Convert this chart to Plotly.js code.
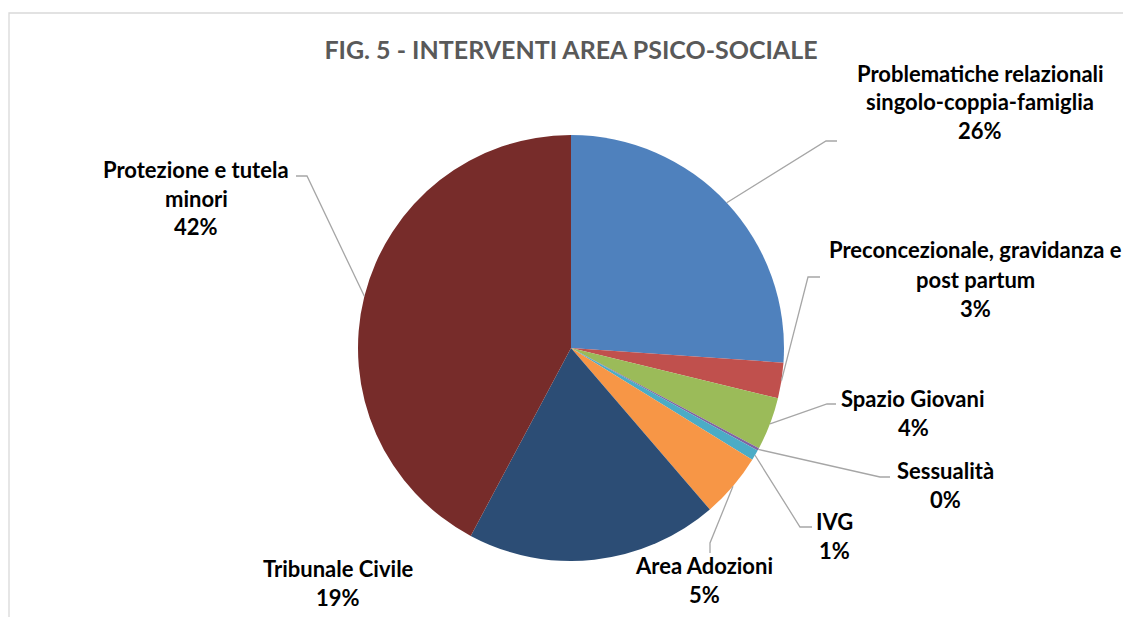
<!DOCTYPE html>
<html>
<head>
<meta charset="utf-8">
<script src="https://cdn.plot.ly/plotly-3.0.1.min.js"></script>
<style>
  html, body { margin: 0; padding: 0; background: #fff; }
  #chart { width: 1123px; height: 617px; }
</style>
</head>
<body>
<div id="chart"></div>
<script>
// data (clockwise from 12 o'clock)
const categories = [
  'Problematiche relazionali singolo-coppia-famiglia',
  'Preconcezionale, gravidanza e post partum',
  'Spazio Giovani',
  'Sessualità',
  'IVG',
  'Area Adozioni',
  'Tribunale Civile',
  'Protezione e tutela minori'
];
const labelLines = [
  ['Problematiche relazionali', 'singolo-coppia-famiglia'],
  ['Preconcezionale, gravidanza e', 'post partum'],
  ['Spazio Giovani'],
  ['Sessualità'],
  ['IVG'],
  ['Area Adozioni'],
  ['Tribunale Civile'],
  ['Protezione e tutela', 'minori']
];
const values = [26.1, 2.7, 4.0, 0.2, 0.8, 4.9, 19.1, 42.2];
const colors = ['#4f81bd', '#c0504d', '#9bbb59', '#8064a2', '#4bacc6', '#f79646', '#2c4d75', '#772c2a'];

// layout of the labels, in pixels
const W = 1123, H = 617;
const cx = 571, cy = 348, R = 213;
const labelPos = [[980, 73], [975, 250], [913, 398], [945, 470], [834, 521], [704, 565], [338, 568], [196, 169]];
const leaderBend = [
  [[826, 141], [837, 141]],
  [[808, 277], [820, 277]],
  [[827, 404], [836, 404]],
  [[880, 477], [890, 477]],
  [[800, 527], [812, 527]],
  [[710, 543], [710, 553]],
  null,
  [[307, 176], [296, 176]]
];
const lineGap = 29;

const px = x => x / W;
const py = y => 1 - y / H;

const total = values.reduce((a, b) => a + b, 0);

const annotations = [];
const shapes = [];

// chart frame
shapes.push({
  type: 'rect', xref: 'paper', yref: 'paper',
  x0: px(9), x1: px(1140), y0: py(13), y1: py(640),
  line: {color: '#d9d9d9', width: 1.3}
});

let cum = 0;
values.forEach((v, i) => {
  const mid = (cum + v / 2) / total * 2 * Math.PI;
  cum += v;
  const lines = labelLines[i].concat([Math.round(v / total * 100) + '%']);
  lines.forEach((t, j) => {
    annotations.push({
      xref: 'paper', yref: 'paper',
      x: px(labelPos[i][0]), y: py(labelPos[i][1] + j * lineGap),
      xanchor: 'center', yanchor: 'middle',
      text: '<b>' + t + '</b>', showarrow: false,
      font: {family: 'Lato, sans-serif', size: 22, color: '#000'}
    });
  });
  if (leaderBend[i]) {
    const sx = cx + R * Math.sin(mid);
    const sy = cy - R * Math.cos(mid);
    const b = leaderBend[i];
    shapes.push({
      type: 'path', xref: 'paper', yref: 'paper',
      path: 'M ' + px(sx) + ' ' + py(sy) + ' L ' + px(b[0][0]) + ' ' + py(b[0][1]) +
            ' L ' + px(b[1][0]) + ' ' + py(b[1][1]),
      line: {color: '#a6a6a6', width: 1.3}
    });
  }
});

const trace = {
  type: 'pie',
  labels: categories,
  values: values,
  sort: false,
  direction: 'clockwise',
  rotation: 0,
  textinfo: 'none',
  marker: {colors: colors, line: {width: 0}},
  domain: {
    x: [px(cx - R), px(cx + R)],
    y: [py(cy + R), py(cy - R)]
  },
  showlegend: false
};

const layout = {
  width: W, height: H,
  margin: {l: 0, r: 0, t: 0, b: 0},
  paper_bgcolor: '#fff',
  title: {
    text: '<b>FIG. 5 - INTERVENTI AREA PSICO-SOCIALE</b>',
    x: px(571), xref: 'paper', xanchor: 'center',
    y: py(50), yref: 'paper', yanchor: 'middle',
    font: {family: 'Lato, sans-serif', size: 25, color: '#595959'}
  },
  annotations: annotations,
  shapes: shapes
};

Plotly.newPlot('chart', [trace], layout, {displayModeBar: false, staticPlot: true});
</script>
</body>
</html>
